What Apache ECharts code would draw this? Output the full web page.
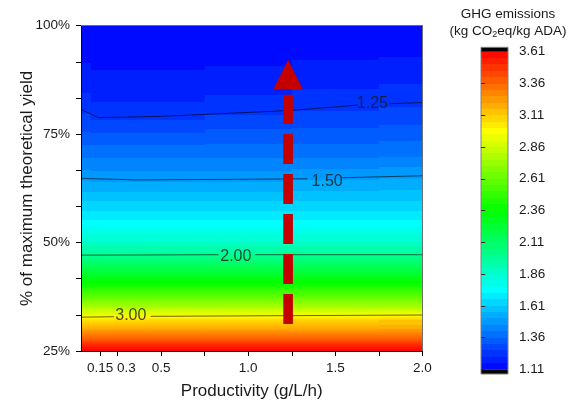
<!DOCTYPE html>
<html>
<head>
<meta charset="utf-8">
<script src="https://cdn.jsdelivr.net/npm/echarts@6/dist/echarts.min.js"></script>
<style>
html, body { margin: 0; padding: 0; background: #fff; }
#chart { width: 568px; height: 405px; }
</style>
</head>
<body>
<div id="chart"></div>
<script>
// productivity (g/L/h) columns and yield (% of max) rows of the GHG grid
var prods = [0.04, 0.15, 0.3, 0.5, 1.0, 1.5, 2.0];
var yields = [25, 27.5, 30, 32.5, 35, 37.5, 40, 42.5, 45, 47.5, 50, 55, 60, 65, 70, 75, 80, 85, 90, 95, 100];
// GHG emissions (kg CO2eq/kg ADA), one row per yield, one value per productivity
var ghg = [
  [3.64, 3.64, 3.64, 3.64, 3.64, 3.64, 3.64],
  [3.42, 3.42, 3.42, 3.42, 3.42, 3.42, 3.42],
  [3.22, 3.22, 3.22, 3.22, 3.22, 3.22, 3.22],
  [3.03, 3.03, 3.04, 3.05, 3.05, 3.07, 3.09],
  [2.80, 2.80, 2.80, 2.80, 2.80, 2.80, 2.80],
  [2.60, 2.60, 2.60, 2.60, 2.60, 2.60, 2.60],
  [2.42, 2.42, 2.42, 2.42, 2.42, 2.42, 2.42],
  [2.27, 2.27, 2.27, 2.27, 2.27, 2.27, 2.27],
  [2.13, 2.13, 2.13, 2.13, 2.13, 2.13, 2.13],
  [1.98, 1.98, 1.98, 1.98, 1.98, 1.98, 1.98],
  [1.88, 1.88, 1.88, 1.88, 1.88, 1.88, 1.88],
  [1.72, 1.72, 1.72, 1.72, 1.72, 1.72, 1.72],
  [1.60, 1.60, 1.60, 1.60, 1.60, 1.60, 1.60],
  [1.495, 1.49, 1.49, 1.49, 1.49, 1.50, 1.51],
  [1.40, 1.40, 1.40, 1.40, 1.40, 1.40, 1.41],
  [1.32, 1.32, 1.32, 1.32, 1.33, 1.33, 1.34],
  [1.255, 1.23, 1.23, 1.23, 1.25, 1.265, 1.275],
  [1.205, 1.19, 1.19, 1.19, 1.20, 1.215, 1.225],
  [1.17, 1.16, 1.16, 1.16, 1.165, 1.175, 1.18],
  [1.14, 1.13, 1.13, 1.13, 1.135, 1.14, 1.145],
  [1.115, 1.11, 1.11, 1.11, 1.11, 1.115, 1.12]
];

// contour lines (productivity, yield %), split where the label sits
var contourLabels = ['1.25', '1.50', '2.00', '3.00'];
var contourLeft = [
  [[0.04, 80.7], [0.14, 78.8], [0.5, 79.1], [1.0, 80.0], [1.26, 80.5], [1.63, 81.7]],
  [[0.04, 64.8], [0.36, 64.45], [1.0, 64.6], [1.34, 64.7]],
  [[0.04, 47.1], [0.83, 47.2]],
  [[0.04, 32.8], [0.23, 32.9]]
];
var contourRight = [
  [[1.81, 82.0], [2.0, 82.3]],
  [[1.54, 64.95], [2.0, 65.4]],
  [[1.04, 47.2], [2.0, 47.2]],
  [[0.44, 33.0], [1.0, 33.1], [2.0, 33.3]]
];
var contourLabelPos = [[1.713, 82.1], [1.453, 64.0], [0.929, 46.8], [0.326, 33.2]];

// red arrow: dashed shaft and head
var arrowShaft = [[1.229, 31.2], [1.229, 84.07]];
var arrowHead = [[1.229, 88.75]];

// axes and colour bar
var xLabelValues = [0.15, 0.3, 0.5, 1.0, 1.5, 2.0];
var xTickValues = [0.15, 0.25, 0.5, 0.75, 1.0, 1.25, 1.5, 1.75, 2.0];
var yLabelValues = [25, 50, 75, 100];
var yTickValues = [25, 33.33, 41.67, 50, 58.33, 66.67, 75, 83.33, 91.67, 100];
var colorbarRange = [1.11, 3.61];
var colorbarTicks = [1.11, 1.36, 1.61, 1.86, 2.11, 2.36, 2.61, 2.86, 3.11, 3.36, 3.61];

var font = 'Liberation Sans, Arial, sans-serif';
var textColor = '#1a1a1a';
var paletteStops = [[0, [0, 0, 255]], [0.25, [0, 255, 255]], [0.5, [0, 255, 0]], [0.75, [255, 255, 0]], [1, [255, 0, 0]]];
var bandStep = 0.05;
var nBands = Math.round((colorbarRange[1] - colorbarRange[0]) / bandStep);

function paletteColor(v) {
  var t = (v - colorbarRange[0]) / (colorbarRange[1] - colorbarRange[0]);
  t = Math.max(0, Math.min(1, t));
  for (var k = 1; k < paletteStops.length; k++) {
    if (t <= paletteStops[k][0]) {
      var a = paletteStops[k - 1], b = paletteStops[k];
      var f = (t - a[0]) / (b[0] - a[0]);
      var c = [0, 1, 2].map(function (n) { return Math.round(a[1][n] + (b[1][n] - a[1][n]) * f); });
      return 'rgb(' + c.join(',') + ')';
    }
  }
  return 'rgb(255,0,0)';
}
function bandColor(v) {
  var k = Math.floor((v - colorbarRange[0]) / bandStep);
  k = Math.max(0, Math.min(nBands - 1, k));
  return paletteColor(colorbarRange[0] + (k + 0.5) * bandStep);
}
// fill levels: hard steps where bands are wide, plain gradient where they are thin
function bandStops(vTop, vBot, hPx) {
  if (vTop === vBot) return [{offset: 0, color: bandColor(vTop)}, {offset: 1, color: bandColor(vTop)}];
  var dir = vBot > vTop ? 1 : -1;
  var bandPx = bandStep / Math.abs(vBot - vTop) * hPx;
  var lo = Math.min(vTop, vBot), hi = Math.max(vTop, vBot);
  var levels = [];
  for (var k = 1; k < nBands; k++) {
    var L = colorbarRange[0] + k * bandStep;
    if (L > lo && L < hi) levels.push(L);
  }
  if (dir < 0) levels.reverse();
  var stops = [];
  if (bandPx < 4) {
    stops.push({offset: 0, color: paletteColor(vTop)});
    levels.forEach(function (L) {
      stops.push({offset: (L - vTop) / (vBot - vTop), color: paletteColor(L)});
    });
    stops.push({offset: 1, color: paletteColor(vBot)});
    return stops;
  }
  stops.push({offset: 0, color: bandColor(vTop)});
  levels.forEach(function (L) {
    var t = (L - vTop) / (vBot - vTop);
    stops.push({offset: t, color: bandColor(L - dir * 1e-6)});
    stops.push({offset: t, color: bandColor(L + dir * 1e-6)});
  });
  stops.push({offset: 1, color: bandColor(vBot)});
  return stops;
}

var edges = [prods[0]];
for (var j = 0; j < prods.length - 1; j++) edges.push((prods[j] + prods[j + 1]) / 2);
edges.push(prods[prods.length - 1]);

var cells = [];
for (var i = 0; i < yields.length - 1; i++) {
  for (var j = 0; j < prods.length; j++) cells.push([prods[j], yields[i], j, i]);
}

function renderCell(params, api) {
  var j = api.value(2), i = api.value(3);
  var p0 = api.coord([edges[j], yields[i + 1]]);
  var p1 = api.coord([edges[j + 1], yields[i]]);
  var h = p1[1] - p0[1];
  return {
    type: 'rect',
    shape: {x: p0[0], y: p0[1], width: p1[0] - p0[0] + 1, height: h + 1},
    style: {fill: new echarts.graphic.LinearGradient(0, 0, 0, 1, bandStops(ghg[i + 1][j], ghg[i][j], h))}
  };
}

var barData = [
  [0.5, colorbarRange[0], colorbarRange[1], 0],
  [0.5, 1.073, colorbarRange[0], 1],
  [0.5, colorbarRange[1], 3.645, 1],
  [0.5, 1.073, 3.645, 2]
];
function renderBar(params, api) {
  var lo = api.value(1), hi = api.value(2), kind = api.value(3);
  var p0 = api.coord([0, hi]);
  var p1 = api.coord([1, lo]);
  var shape = {x: p0[0], y: p0[1], width: p1[0] - p0[0], height: p1[1] - p0[1]};
  if (kind === 2) {
    return {type: 'rect', shape: shape, style: {fill: 'none', stroke: '#808080', lineWidth: 1}};
  }
  return {
    type: 'rect', shape: shape,
    style: {fill: kind === 1 ? '#000' : new echarts.graphic.LinearGradient(0, 0, 0, 1, bandStops(hi, lo, shape.height))}
  };
}

var series = [{
  type: 'custom', xAxisIndex: 0, yAxisIndex: 0, renderItem: renderCell,
  data: cells, encode: {x: 0, y: 1}, clip: true, silent: true, z: 1
}];
contourLeft.concat(contourRight).forEach(function (pts) {
  series.push({
    type: 'line', xAxisIndex: 0, yAxisIndex: 0, data: pts, symbol: 'none', silent: true, z: 3,
    lineStyle: {color: 'rgba(0,0,0,0.75)', width: 0.8}
  });
});
series.push({
  type: 'scatter', xAxisIndex: 0, yAxisIndex: 0, symbolSize: 1, silent: true, z: 4,
  itemStyle: {color: 'transparent'},
  data: contourLabelPos.map(function (p, k) { return {value: p, name: contourLabels[k]}; }),
  label: {show: true, position: 'inside', formatter: '{b}', color: textColor, fontSize: 16, fontFamily: font}
});
series.push({
  type: 'line', xAxisIndex: 0, yAxisIndex: 0, data: arrowShaft, symbol: 'none', silent: true, z: 5,
  lineStyle: {color: '#c40000', width: 9.6, type: [30, 10], cap: 'butt'}
});
series.push({
  type: 'scatter', xAxisIndex: 0, yAxisIndex: 0, data: arrowHead, symbol: 'triangle',
  symbolSize: [29.4, 29.3], silent: true, z: 5, itemStyle: {color: '#c40000', opacity: 1}
});
series.push({
  type: 'custom', xAxisIndex: 2, yAxisIndex: 2, renderItem: renderBar,
  data: barData, encode: {x: 0, y: 1}, silent: true, z: 1
});

var option = {
  animation: false,
  backgroundColor: '#fff',
  textStyle: {fontFamily: font},
  grid: [
    {left: 81, right: 145.6, top: 25.7, bottom: 53},
    {left: 481, width: 27, top: 47.3, bottom: 31}
  ],
  xAxis: [{
    type: 'value', gridIndex: 0, min: 0.04, max: 2.0, z: 10,
    name: 'Productivity (g/L/h)', nameLocation: 'middle', nameGap: 32, nameMoveOverlap: false,
    nameTextStyle: {fontSize: 17, color: textColor, fontFamily: font},
    axisLine: {show: true, lineStyle: {color: '#000', width: 1}},
    axisTick: {show: true, length: 5, customValues: xTickValues, lineStyle: {color: '#000'}},
    axisLabel: {customValues: xLabelValues, margin: 10, fontSize: 13.5, color: textColor, fontFamily: font,
      formatter: function (v) { return v === 0.15 ? '0.15' : v.toFixed(1); }},
    splitLine: {show: false}
  }, {
    type: 'value', gridIndex: 0, min: 0.04, max: 2.0, position: 'top', z: 10,
    axisLine: {show: true, lineStyle: {color: '#6e6e6e', width: 1}},
    axisTick: {show: false}, axisLabel: {show: false}, splitLine: {show: false}
  }, {
    type: 'value', gridIndex: 1, min: 0, max: 1, show: false
  }],
  yAxis: [{
    type: 'value', gridIndex: 0, min: 25, max: 100, z: 10,
    name: '% of maximum theoretical yield', nameLocation: 'middle', nameGap: 45, nameMoveOverlap: false,
    nameTextStyle: {fontSize: 17, color: textColor, fontFamily: font},
    axisLine: {show: true, lineStyle: {color: '#000', width: 1}},
    axisTick: {show: true, length: 5, customValues: yTickValues, lineStyle: {color: '#000'}},
    axisLabel: {customValues: yLabelValues, margin: 11, fontSize: 13.5, color: textColor, fontFamily: font,
      formatter: function (v) { return v + '%'; }},
    splitLine: {show: false}
  }, {
    type: 'value', gridIndex: 0, min: 25, max: 100, position: 'right', z: 10,
    axisLine: {show: true, lineStyle: {color: '#6e6e6e', width: 1}},
    axisTick: {show: false}, axisLabel: {show: false}, splitLine: {show: false}
  }, {
    type: 'value', gridIndex: 1, min: 1.073, max: 3.645, position: 'right', z: 10,
    axisLine: {show: false},
    axisTick: {show: true, length: 4.3, customValues: colorbarTicks, lineStyle: {color: '#333'}},
    axisLabel: {customValues: colorbarTicks, margin: 11, fontSize: 13.5, color: textColor, fontFamily: font,
      formatter: function (v) { return v.toFixed(2); }},
    splitLine: {show: false}
  }],
  graphic: [{
    type: 'text', x: 508, y: 14,
    style: {text: 'GHG emissions', fontSize: 13.5, fontFamily: font, fill: textColor,
      align: 'center', verticalAlign: 'middle'}
  }, {
    type: 'text', x: 508, y: 31,
    style: {text: '(kg CO{sub|2}eq/kg ADA)', fontSize: 13.5, fontFamily: font, fill: textColor,
      align: 'center', verticalAlign: 'middle',
      rich: {sub: {fontSize: 9, fontFamily: font, fill: textColor, padding: [8, 0, 0, 0]}}}
  }],
  series: series
};

var chart = echarts.init(document.getElementById('chart'));
chart.setOption(option);
</script>
</body>
</html>
